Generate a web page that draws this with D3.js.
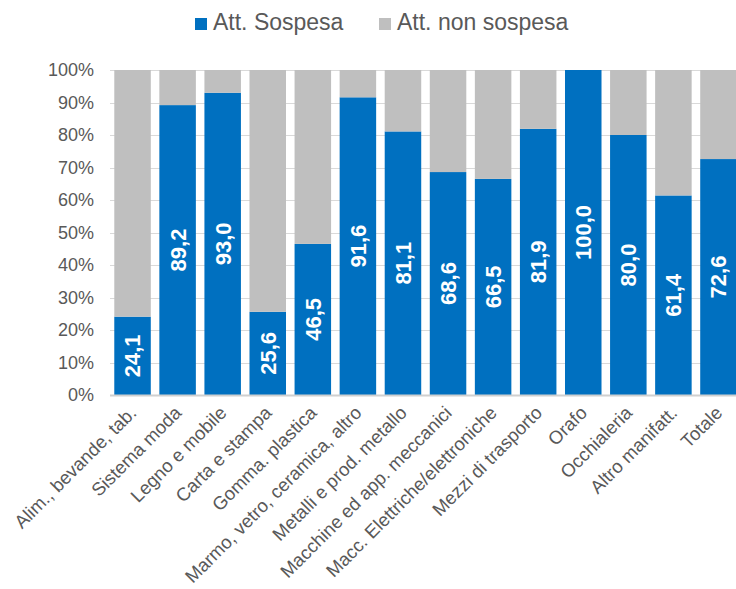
<!DOCTYPE html>
<html>
<head>
<meta charset="utf-8">
<script src="https://cdn.jsdelivr.net/npm/d3@7"></script>
<style>
  html, body { margin: 0; padding: 0; background: #fff; }
  svg { display: block; font-family: Arial, "Liberation Sans", sans-serif; }
</style>
</head>
<body>
<svg id="chart" width="736" height="589"></svg>
<script>
// Quota di imprese con attività sospesa per settore (%)
const categories = [
  "Alim., bevande, tab.", "Sistema moda", "Legno e mobile", "Carta e stampa",
  "Gomma. plastica", "Marmo, vetro, ceramica, altro", "Metalli e prod. metallo",
  "Macchine ed app. meccanici", "Macc. Elettriche/elettroniche", "Mezzi di trasporto",
  "Orafo", "Occhialeria", "Altro manifatt.", "Totale"
];
const sospesa = [24.1, 89.2, 93.0, 25.6, 46.5, 91.6, 81.1, 68.6, 66.5, 81.9, 100.0, 80.0, 61.4, 72.6];
const nonSospesa = sospesa.map(v => 100 - v);
const seriesNames = ["Att. Sospesa", "Att. non sospesa"];
const seriesColors = ["#0070C0", "#BFBFBF"];
const yTicks = [0, 10, 20, 30, 40, 50, 60, 70, 80, 90, 100];

const svg = d3.select("#chart");
const textColor = "#595959";

const x = d3.scaleBand()
  .domain(categories)
  .range([110, 741])
  .paddingInner(0.19)
  .paddingOuter(0.095);

const y = d3.scaleLinear().domain([0, 100]).range([395, 70]);

// Gridlines
svg.append("g")
  .selectAll("line")
  .data(yTicks.filter(d => d > 0))
  .join("line")
  .attr("x1", 110).attr("x2", 736)
  .attr("y1", d => Math.round(y(d)) + 0.5)
  .attr("y2", d => Math.round(y(d)) + 0.5)
  .attr("stroke", "#D9D9D9")
  .attr("stroke-width", 1);

// Y tick labels
svg.append("g")
  .selectAll("text")
  .data(yTicks)
  .join("text")
  .attr("x", 94)
  .attr("y", d => y(d))
  .attr("dy", "0.35em")
  .attr("text-anchor", "end")
  .attr("font-size", 18)
  .attr("fill", textColor)
  .text(d => d + "%");

// Stacked data
const rows = categories.map((c, i) => ({ cat: c, s: sospesa[i], n: nonSospesa[i] }));
const stack = d3.stack().keys(["s", "n"])(rows);

svg.append("g")
  .selectAll("g")
  .data(stack)
  .join("g")
  .attr("fill", (d, i) => seriesColors[i])
  .selectAll("rect")
  .data(d => d)
  .join("rect")
  .attr("x", d => x(d.data.cat))
  .attr("width", x.bandwidth())
  .attr("y", d => y(d[1]))
  .attr("height", d => y(d[0]) - y(d[1]));

// Baseline
svg.append("line")
  .attr("x1", 110).attr("x2", 736)
  .attr("y1", 395.5).attr("y2", 395.5)
  .attr("stroke", "#D0D0D0")
  .attr("stroke-width", 2);

// Value labels inside the blue segments
svg.append("g")
  .selectAll("text")
  .data(rows)
  .join("text")
  .attr("transform", d => `translate(${x(d.cat) + x.bandwidth() / 2},${(y(0) + y(d.s)) / 2}) rotate(-90)`)
  .attr("text-anchor", "middle")
  .attr("dy", "0.36em")
  .attr("font-size", 22)
  .attr("font-weight", "bold")
  .attr("fill", "#fff")
  .text(d => d3.format(".1f")(d.s).replace(".", ","));

// Category labels
svg.append("g")
  .selectAll("text")
  .data(categories)
  .join("text")
  .attr("transform", d => `translate(${x(d) + x.bandwidth() / 2 + 5},${414}) rotate(-45)`)
  .attr("text-anchor", "end")
  .attr("font-size", 18.5)
  .attr("fill", textColor)
  .text(d => d);

// Legend
const legend = svg.append("g");
const legendX = [195, 379];
seriesNames.forEach((name, i) => {
  legend.append("rect")
    .attr("x", legendX[i]).attr("y", 18)
    .attr("width", 12).attr("height", 12)
    .attr("fill", seriesColors[i]);
  legend.append("text")
    .attr("x", legendX[i] + 18).attr("y", 30)
    .attr("font-size", 23)
    .attr("fill", textColor)
    .text(name);
});
</script>
</body>
</html>
